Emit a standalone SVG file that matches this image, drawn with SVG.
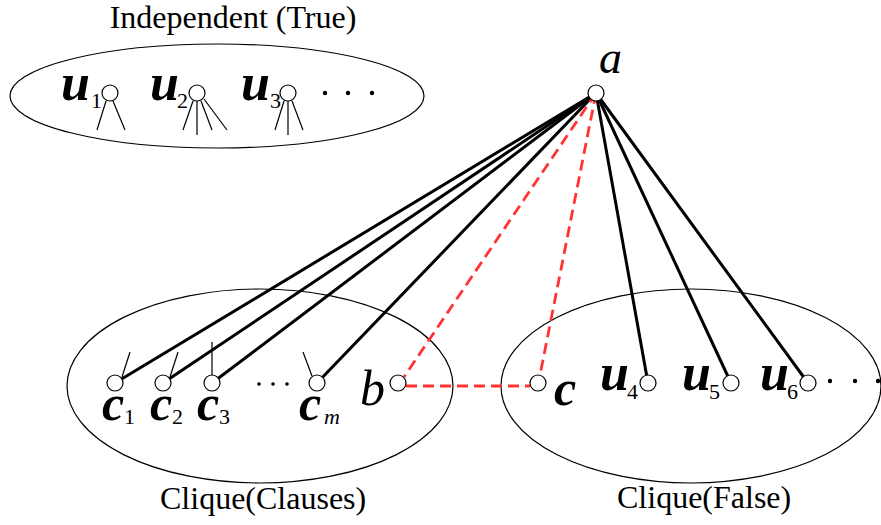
<svg xmlns="http://www.w3.org/2000/svg" width="881" height="525" viewBox="0 0 881 525">
<style>
.grp{fill:none;stroke:#000;stroke-width:1.2}
.nd{fill:#fff;stroke:#000;stroke-width:1.2}
.thin{stroke:#000;stroke-width:1.2;fill:none}
.e{stroke:#000;stroke-width:3;fill:none}
.r{stroke:#ff3333;stroke-width:2.8;stroke-dasharray:11 6;fill:none}
.t{font-family:"Liberation Serif","Times New Roman",serif;font-size:32px;fill:#000}
.v{font-family:"Liberation Serif","Times New Roman",serif;font-style:italic;fill:#000}
.bv{font-family:"Liberation Serif","Times New Roman",serif;font-style:italic;font-weight:bold;fill:#000}
.s{font-family:"Liberation Serif","Times New Roman",serif;font-size:22px;fill:#000}
.dot{fill:#000}
</style>
<rect width="881" height="525" fill="#fff"/>
<g id="groups">
<ellipse class="grp" cx="217" cy="96" rx="207" ry="52"/>
<ellipse class="grp" cx="260" cy="386" rx="193" ry="97"/>
<ellipse class="grp" cx="691" cy="386" rx="190" ry="97"/>
<text class="t" x="233" y="28" text-anchor="middle">Independent (True)</text>
<text class="t" x="160" y="509">Clique(Clauses)</text>
<text class="t" x="617" y="508">Clique(False)</text>
</g>
<g id="connectors">
<line class="e" x1="596" y1="93" x2="115" y2="383"/>
<line class="e" x1="596" y1="93" x2="163" y2="383"/>
<line class="e" x1="596" y1="93" x2="212" y2="383"/>
<line class="e" x1="596" y1="93" x2="317" y2="383"/>
<line class="e" x1="596" y1="93" x2="648" y2="383"/>
<line class="e" x1="596" y1="93" x2="731" y2="383"/>
<line class="e" x1="596" y1="93" x2="808" y2="383"/>
<line class="r" x1="596" y1="93" x2="404" y2="377"/>
<line class="r" x1="596" y1="93" x2="540" y2="375"/>
<line class="r" x1="406" y1="386" x2="530" y2="386"/>
<path class="thin" d="M106 101L97 130M113 101L125 130"/>
<path class="thin" d="M193 101L183 130M197 101L197 135M201 101L212 130M204 99L227 130"/>
<path class="thin" d="M284 101L275 130M288 101L288 135M292 101L303 130"/>
<path class="thin" d="M122 377L130 352M170 377L178 352M212 375L212 342M312 376L303 352"/>
</g>
<g id="node-a"><circle class="nd" cx="596" cy="93" r="8"/><text class="v" x="599" y="73" font-size="46">a</text></g>
<g id="node-u1"><circle class="nd" cx="110" cy="93" r="8"/><text class="bv" x="61" y="100" font-size="52">u</text><text class="s" x="91" y="108">1</text></g>
<g id="node-u2"><circle class="nd" cx="197" cy="93" r="8"/><text class="bv" x="150" y="100" font-size="52">u</text><text class="s" x="177" y="108">2</text></g>
<g id="node-u3"><circle class="nd" cx="288" cy="93" r="8"/><text class="bv" x="241" y="100" font-size="52">u</text><text class="s" x="270" y="108">3</text></g>
<g id="dots-top"><circle class="dot" cx="325" cy="93" r="2.2"/><circle class="dot" cx="348" cy="93" r="2.2"/><circle class="dot" cx="372" cy="93" r="2.2"/></g>
<g id="node-c1"><circle class="nd" cx="115" cy="383" r="8"/><text class="bv" x="102" y="420" font-size="50">c</text><text class="s" x="124" y="424">1</text></g>
<g id="node-c2"><circle class="nd" cx="163" cy="383" r="8"/><text class="bv" x="150" y="420" font-size="50">c</text><text class="s" x="172" y="424">2</text></g>
<g id="node-c3"><circle class="nd" cx="212" cy="383" r="8"/><text class="bv" x="197" y="420" font-size="50">c</text><text class="s" x="219" y="424">3</text></g>
<g id="dots-c"><circle class="dot" cx="259" cy="384" r="1.8"/><circle class="dot" cx="273" cy="384" r="1.8"/><circle class="dot" cx="287" cy="384" r="1.8"/></g>
<g id="node-cm"><circle class="nd" cx="317" cy="383" r="8"/><text class="bv" x="299" y="420" font-size="50">c</text><text class="s" x="324" y="424" font-style="italic">m</text></g>
<g id="node-b"><circle class="nd" cx="398" cy="383" r="8"/><text class="v" x="360" y="405" font-size="50">b</text></g>
<g id="node-c"><circle class="nd" cx="538" cy="383" r="8"/><text class="bv" x="554" y="405" font-size="50">c</text></g>
<g id="node-u4"><circle class="nd" cx="648" cy="383" r="8"/><text class="bv" x="600" y="390" font-size="52">u</text><text class="s" x="627" y="399">4</text></g>
<g id="node-u5"><circle class="nd" cx="731" cy="383" r="8"/><text class="bv" x="682" y="390" font-size="52">u</text><text class="s" x="709" y="399">5</text></g>
<g id="node-u6"><circle class="nd" cx="808" cy="383" r="8"/><text class="bv" x="760" y="390" font-size="52">u</text><text class="s" x="787" y="399">6</text></g>
<g id="dots-u"><circle class="dot" cx="830" cy="381" r="2.2"/><circle class="dot" cx="855" cy="381" r="2.2"/><circle class="dot" cx="878" cy="381" r="2.2"/></g>
</svg>
